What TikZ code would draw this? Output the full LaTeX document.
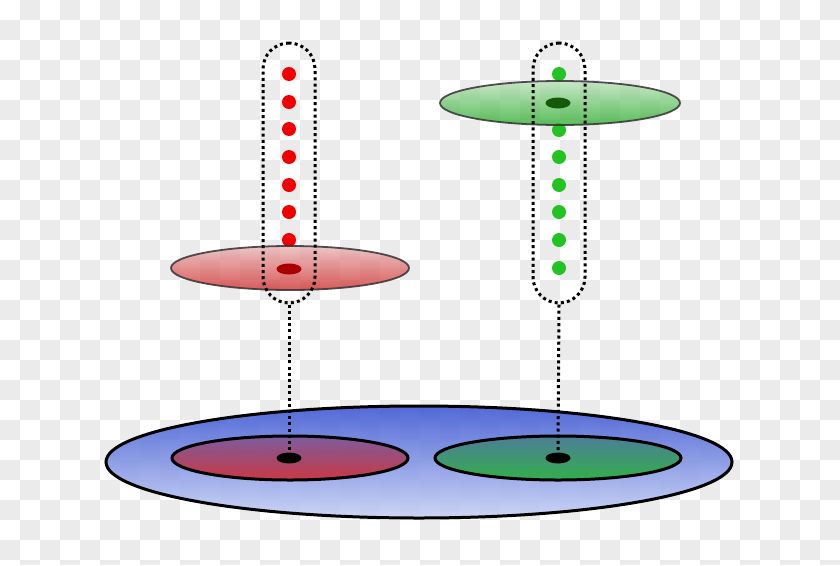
\documentclass[tikz,border=0pt]{standalone}
\usetikzlibrary{shapes.geometric}
\definecolor{chk}{HTML}{EBEBEB}
\definecolor{rdot}{HTML}{F00000}
\definecolor{gdot}{HTML}{22C322}
\tikzset{
  bead/.style={circle, inner sep=0pt, minimum size=14pt},
  disc/.style={ellipse, inner sep=0pt, draw=black!80, line width=1.8pt, fill opacity=0.78, draw opacity=0.85},
  base/.style={ellipse, inner sep=0pt, draw=black, line width=3pt},
  hub/.style={ellipse, inner sep=0pt, minimum width=25pt, minimum height=11pt},
  capsule/.style={rectangle, rounded corners=26pt, draw=black, line width=3pt, dash pattern=on 3pt off 3.2pt, minimum width=52pt, minimum height=260pt, inner sep=0pt},
  link/.style={draw=black, line width=3pt, dash pattern=on 3pt off 3.2pt}
}
\begin{document}
\begin{tikzpicture}[x=1pt,y=-1pt]
\fill[white] (0,0) rectangle (840,565);
\foreach \ci in {0,2,...,40}{\foreach \cj in {1,3,...,27}{
  \fill[fill=chk] (\ci*20pt,-\cj*20pt) rectangle +(20pt,-20pt);}}
\foreach \ci in {1,3,...,41}{\foreach \cj in {0,2,...,26}{
  \fill[fill=chk] (\ci*20pt,-\cj*20pt) rectangle +(20pt,-20pt);}}
\foreach \ci in {1,3,...,41}
  \fill[fill=chk] (\ci*20pt,-560pt) rectangle +(20pt,-5pt);
\useasboundingbox (0,0) rectangle (840,565);
% base
\node[base, minimum width=626pt, minimum height=112pt, top color={rgb,255:red,65;green,90;blue,212}, bottom color={rgb,255:red,200;green,210;blue,245}, fill opacity=0.9] (B) at (419,462) {};
\node[base, minimum width=236pt, minimum height=44pt, top color={rgb,255:red,125;green,90;blue,155}, bottom color={rgb,255:red,205;green,50;blue,60}, fill opacity=0.95] (BR) at (290,458) {};
\node[base, minimum width=246pt, minimum height=44pt, top color={rgb,255:red,75;green,125;blue,150}, bottom color={rgb,255:red,45;green,175;blue,65}, fill opacity=0.95] (BG) at (558,458) {};
\node[hub, fill=black] (hR) at (289,458) {};
\node[hub, fill=black] (hG) at (558,458) {};
% red fibre
\foreach \y [count=\n] in {74,102,129,157,185,212,240}
  \node[bead, fill=rdot] (r\n) at (289,\y) {};
\node[disc, minimum width=238pt, minimum height=44pt, top color={rgb,255:red,232;green,180;blue,180}, bottom color={rgb,255:red,208;green,45;blue,45}] (DR) at (290,268) {};
\node[hub, fill={rgb,255:red,170;green,0;blue,0}] (sR) at (289,269) {};
\node[capsule] (cR) at (289,173) {};
\draw[link] (cR.south) -- (hR.north);
% green fibre
\foreach \y [count=\n] in {74,130,157,185,212,240,268}
  \node[bead, fill=gdot] (g\n) at (559,\y) {};
\node[disc, minimum width=240pt, minimum height=44pt, top color={rgb,255:red,185;green,225;blue,185}, bottom color={rgb,255:red,45;green,172;blue,45}] (DG) at (560,103) {};
\node[hub, fill={rgb,255:red,20;green,90;blue,10}] (sG) at (558,103) {};
\node[capsule] (cG) at (559,173) {};
\draw[link] (cG.south) -- (hG.north);
\end{tikzpicture}
\end{document}
